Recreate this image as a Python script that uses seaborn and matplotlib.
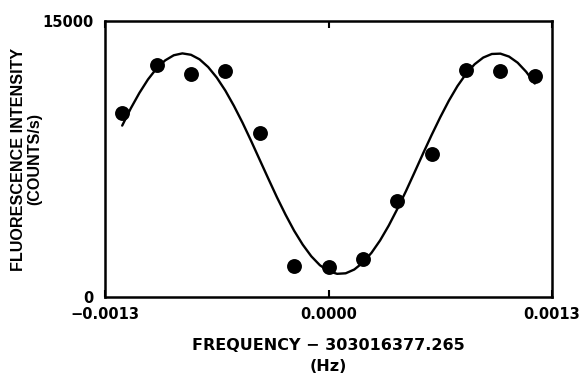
import numpy as np
import pandas as pd
import seaborn as sns
import matplotlib.pyplot as plt

# measured points (frequency offset in Hz, counts/s)
freq = [-0.0012, -0.0010, -0.0008, -0.0006, -0.0004, -0.0002, 0.0000,
        0.0002, 0.0004, 0.0006, 0.0008, 0.0010, 0.0012]
counts = [9980, 12610, 12120, 12280, 8930, 1700, 1610,
          2050, 5230, 7770, 12340, 12300, 12030]

# fitted curve
fit_freq = [-0.00120, -0.00115, -0.00110, -0.00105, -0.00100, -0.00095, -0.00090,
            -0.00085, -0.00080, -0.00075, -0.00070, -0.00065, -0.00060, -0.00055,
            -0.00050, -0.00045, -0.00040, -0.00035, -0.00030, -0.00025, -0.00020,
            -0.00015, -0.00010, -0.00005, 0.00000, 0.00005, 0.00010, 0.00015,
            0.00020, 0.00025, 0.00030, 0.00035, 0.00040, 0.00045, 0.00050,
            0.00055, 0.00060, 0.00065, 0.00070, 0.00075, 0.00080, 0.00085,
            0.00090, 0.00095, 0.00100, 0.00105, 0.00110, 0.00115, 0.00120]
fit_counts = [9315, 10252, 11090, 11824, 12421, 12860, 13138,
              13240, 13164, 12917, 12498, 11926, 11217, 10386,
              9472, 8481, 7454, 6431, 5422, 4477, 3604,
              2847, 2212, 1727, 1408, 1260, 1288, 1494,
              1870, 2401, 3074, 3875, 4778, 5744, 6764,
              7799, 8807, 9769, 10666, 11462, 12126, 12651,
              13013, 13208, 13226, 13067, 12735, 12238, 11601]

x_ticks = [-0.0013, 0.0, 0.0013]
x_ticklabels = ["\u22120.0013", "0.0000", "0.0013"]
y_ticks = [0, 15000]
y_ticklabels = ["0", "15000"]

sns.set_theme(style="ticks")
plt.rcParams["font.family"] = ["DejaVu Sans"]
plt.rcParams["font.weight"] = "bold"
for key in ["text.color", "axes.labelcolor", "xtick.color", "ytick.color", "axes.edgecolor"]:
    plt.rcParams[key] = "black"

pts = pd.DataFrame({"freq": freq, "counts": counts})
fit = pd.DataFrame({"freq": fit_freq, "counts": fit_counts})

fig, ax = plt.subplots(figsize=(5.81, 3.77), dpi=100)
fig.subplots_adjust(left=105 / 581, right=552 / 581, top=1 - 21 / 377, bottom=1 - 297 / 377)

sns.lineplot(data=fit, x="freq", y="counts", color="black", linewidth=1.7,
             sort=False, ax=ax)
sns.scatterplot(data=pts, x="freq", y="counts", color="black", s=115,
                edgecolor="black", linewidth=0, ax=ax, zorder=3)

ax.set_xlim(-0.0013, 0.0013)
ax.set_ylim(0, 15000)
ax.set_xticks(x_ticks)
ax.set_xticklabels(x_ticklabels, fontsize=10.5, fontweight="bold")
ax.set_yticks(y_ticks)
ax.set_yticklabels(y_ticklabels, fontsize=10.5, fontweight="bold")
ax.tick_params(axis="x", direction="in", top=True, length=5, width=1.5, pad=7)
ax.tick_params(axis="y", direction="in", length=0, pad=8)
for s in ax.spines.values():
    s.set_linewidth(1.8)
    s.set_color("black")

ax.set_xlabel("FREQUENCY \u2212 303016377.265\n(Hz)", fontsize=11.5,
              fontweight="bold", labelpad=12, linespacing=1.5)
ax.set_ylabel("FLUORESCENCE INTENSITY\n(COUNTS/s)", fontsize=11.6,
              fontweight="bold", family=["Liberation Sans", "DejaVu Sans"],
              labelpad=0, linespacing=1.15)

plt.savefig("out.png", dpi=100)
